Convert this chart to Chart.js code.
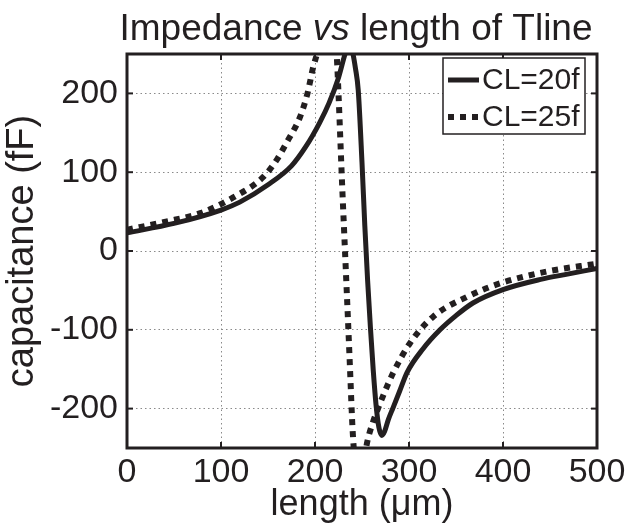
<!DOCTYPE html>
<html>
<head>
<meta charset="utf-8">
<script src="https://cdn.jsdelivr.net/npm/chart.js@4"></script>
<style>
  html, body { margin: 0; padding: 0; background: #fff; }
  canvas { display: block; }
</style>
</head>
<body>
<canvas id="chart" width="631" height="527"></canvas>
<script>
// line length (um) vs effective capacitance (fF)
const lenCL20 = [0, 50, 100, 120, 150, 175, 190, 205, 215, 225, 232, 236, 240, 243, 246, 250, 253, 256, 259, 262, 265, 268, 271, 274, 278, 283, 290, 298, 315, 333, 350, 368, 400, 440, 470, 500];
const capCL20 = [23, 35, 52, 62, 84, 108, 132, 163, 188, 220, 250, 262, 252, 232, 204, 112, 32, -38, -98, -152, -196, -224, -234, -229, -214, -199, -178, -154, -124, -100, -82, -66, -49, -36, -29, -22];

const lenCL25 = [0, 40, 78, 113, 145, 160, 170, 184, 192, 198, 202, 208, 214, 219, 223, 225, 227, 229, 231, 233, 235, 237, 240, 242, 247, 252, 256, 262, 267, 272, 283, 301, 326, 362, 397, 447, 500];
const capCL25 = [27, 37, 48, 68, 94, 117, 138, 170, 200, 233, 250, 285, 300, 285, 250, 200, 140, 80, 25, -30, -85, -142, -227, -260, -290, -265, -240, -216, -200, -185, -155, -117, -83, -58, -41, -26, -16];

const seriesLabels = ['CL=20f', 'CL=25f'];
const xTicks = [0, 100, 200, 300, 400, 500];
const yTicks = [-200, -100, 0, 100, 200];

const ink = '#231f20';
const face = '"Liberation Sans", Arial, sans-serif';

function toPoints(xs, ys) {
  return xs.map((x, i) => ({ x: x, y: ys[i] }));
}

// title with italic "vs"
const titlePlugin = {
  id: 'mixedTitle',
  afterDraw(chart) {
    const ctx = chart.ctx;
    const parts = [['Impedance ', ''], ['vs', 'italic '], [' length of Tline', '']];
    ctx.save();
    ctx.fillStyle = ink;
    ctx.textBaseline = 'alphabetic';
    let total = 0;
    parts.forEach(p => {
      ctx.font = p[1] + '37px ' + face;
      total += ctx.measureText(p[0]).width;
    });
    const a = chart.chartArea;
    let x = (a.left + a.right) / 2 - 6 - total / 2;
    parts.forEach(p => {
      ctx.font = p[1] + '37px ' + face;
      ctx.fillText(p[0], x, 40);
      x += ctx.measureText(p[0]).width;
    });
    ctx.restore();
  }
};

// box, inward ticks and legend
const framePlugin = {
  id: 'frame',
  afterDatasetsDraw(chart) {
    const ctx = chart.ctx;
    const a = chart.chartArea;
    const sx = chart.scales.x, sy = chart.scales.y;
    const seg = (x1, y1, x2, y2) => { ctx.beginPath(); ctx.moveTo(x1, y1); ctx.lineTo(x2, y2); ctx.stroke(); };
    ctx.save();
    ctx.strokeStyle = ink;
    ctx.lineWidth = 2;
    xTicks.forEach(v => {
      const px = sx.getPixelForValue(v);
      seg(px, a.bottom, px, a.bottom - 6);
      seg(px, a.top, px, a.top + 6);
    });
    yTicks.forEach(v => {
      const py = sy.getPixelForValue(v);
      seg(a.left, py, a.left + 6, py);
      seg(a.right, py, a.right - 6, py);
    });
    ctx.lineWidth = 3;
    ctx.strokeRect(a.left, a.top, a.right - a.left, a.bottom - a.top);

    // legend
    const lx = a.right - 154, ly = a.top + 4, lw = 142, lh = 76;
    ctx.fillStyle = '#fff';
    ctx.fillRect(lx, ly, lw, lh);
    ctx.lineWidth = 1.5;
    ctx.strokeRect(lx, ly, lw, lh);
    ctx.font = '30px ' + face;
    ctx.textBaseline = 'middle';
    chart.data.datasets.forEach((ds, i) => {
      const cy = ly + 22 + i * 37;
      ctx.lineWidth = ds.borderWidth;
      ctx.setLineDash(ds.borderDash || []);
      seg(lx + 5, cy, lx + 36, cy);
      ctx.setLineDash([]);
      ctx.fillStyle = ink;
      ctx.fillText(seriesLabels[i], lx + 39, cy + 1);
    });
    ctx.restore();
  }
};

new Chart(document.getElementById('chart'), {
  type: 'line',
  data: {
    datasets: [{
      label: seriesLabels[0],
      data: toPoints(lenCL20, capCL20),
      borderColor: ink,
      borderWidth: 5,
      pointRadius: 0,
      cubicInterpolationMode: 'monotone',
      clip: 0
    }, {
      label: seriesLabels[1],
      data: toPoints(lenCL25, capCL25),
      borderColor: ink,
      borderWidth: 6,
      borderDash: [6, 6],
      borderCapStyle: 'butt',
      pointRadius: 0,
      cubicInterpolationMode: 'monotone',
      clip: 0
    }]
  },
  options: {
    responsive: false,
    animation: false,
    layout: { padding: { top: 54, right: 34, left: 0, bottom: 0 } },
    plugins: { legend: { display: false }, tooltip: { enabled: false } },
    scales: {
      x: {
        type: 'linear',
        min: 0,
        max: 500,
        afterBuildTicks: s => { s.ticks = xTicks.map(v => ({ value: v })); },
        afterFit: s => { s.height = 79; },
        grid: { color: '#8a8a8a', lineWidth: 1, drawTicks: false },
        border: { display: false, dash: [1.5, 3] },
        ticks: { color: ink, font: { family: face, size: 34 }, padding: 4 },
        title: { display: true, text: 'length (\u03bcm)', color: ink, font: { family: face, size: 36 }, padding: 0 }
      },
      y: {
        min: -250,
        max: 250,
        afterBuildTicks: s => { s.ticks = yTicks.map(v => ({ value: v })); },
        afterFit: s => { s.width = 127; },
        grid: { color: '#8a8a8a', lineWidth: 1, drawTicks: false },
        border: { display: false, dash: [1.5, 3] },
        ticks: { color: ink, font: { family: face, size: 34 }, padding: 9 },
        title: { display: true, text: 'capacitance (fF)', color: ink, font: { family: face, size: 38 }, padding: 0 }
      }
    }
  },
  plugins: [titlePlugin, framePlugin]
});
</script>
</body>
</html>
